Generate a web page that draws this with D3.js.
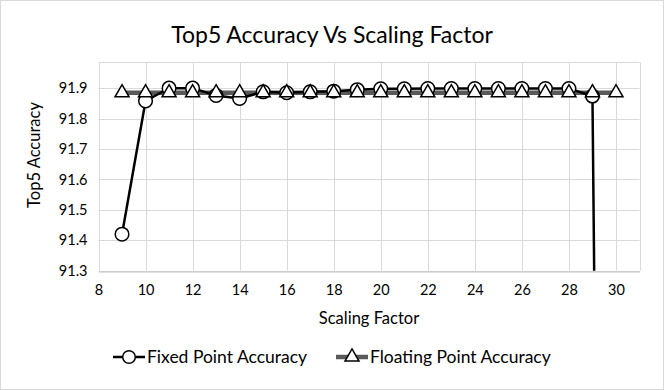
<!DOCTYPE html>
<html lang="en">
    <head>
        <meta charset="utf-8">
        <title>Top5 Accuracy</title>
        <script type="text/javascript" src="https://cdnjs.cloudflare.com/ajax/libs/d3/7.8.5/d3.min.js"></script>
        <style type="text/css">
            body { margin: 0; background: #fff; }
            text { font-family: Lato, "Open Sans", sans-serif; fill: #000; }
        </style>
    </head>
    <body>
        <script type="text/javascript">
            var w = 664;
            var h = 390;

            // data
            var scalingFactors = [9, 10, 11, 12, 13, 14, 15, 16, 17, 18, 19, 20, 21, 22, 23, 24, 25, 26, 27, 28, 29, 30];
            var fixedAcc = [91.42, 91.858, 91.9, 91.9, 91.876, 91.866, 91.888, 91.885, 91.888, 91.89, 91.895, 91.898,
                            91.898, 91.899, 91.899, 91.899, 91.899, 91.899, 91.899, 91.899, 91.874, 84.0];
            var floatAcc = [91.885, 91.885, 91.885, 91.885, 91.885, 91.885, 91.885, 91.885, 91.885, 91.885, 91.885,
                            91.885, 91.885, 91.885, 91.885, 91.885, 91.885, 91.885, 91.885, 91.885, 91.885, 91.885];
            var xTicks = [8, 10, 12, 14, 16, 18, 20, 22, 24, 26, 28, 30];
            var yTicks = [91.3, 91.4, 91.5, 91.6, 91.7, 91.8, 91.9];
            var seriesNames = ["Fixed Point Accuracy", "Floating Point Accuracy"];

            var pLeft = 98.5, pRight = 639.5, pTop = 62.3, pBottom = 270.7;

            var svg = d3.select("body")
                        .append("svg")
                        .attr("width", w)
                        .attr("height", h);

            // chart border
            svg.append("rect")
               .attr("x", 0.5).attr("y", 0.5)
               .attr("width", w - 1).attr("height", h - 1)
               .attr("fill", "#fff")
               .attr("stroke", "#d9d9d9");

            var x = d3.scaleLinear().domain([8, 31]).range([pLeft, pRight]);
            var y = d3.scaleLinear().domain([91.3, 91.985]).range([pBottom, pTop]);

            // gridlines
            var grid = svg.append("g").attr("stroke", "#d9d9d9").attr("stroke-width", 1);
            grid.selectAll("line.h")
                .data(yTicks.concat([91.985]))
                .enter().append("line")
                .attr("x1", pLeft).attr("x2", pRight)
                .attr("y1", function (d) { return Math.round(y(d)) + 0.5; })
                .attr("y2", function (d) { return Math.round(y(d)) + 0.5; });
            grid.selectAll("line.v")
                .data(xTicks.concat([31]))
                .enter().append("line")
                .attr("y1", pTop).attr("y2", pBottom)
                .attr("x1", function (d) { return Math.round(x(d)) + 0.5; })
                .attr("x2", function (d) { return Math.round(x(d)) + 0.5; });

            // axes (labels only, Excel style)
            var xAxis = svg.append("g")
                .attr("transform", "translate(0," + (Math.round(pBottom) + 0.5) + ")")
                .call(d3.axisBottom(x).tickValues(xTicks).tickSize(0).tickPadding(13).tickFormat(d3.format("d")));
            xAxis.select(".domain").attr("stroke", "#bfbfbf");
            xAxis.selectAll("text").style("font-size", "14.5px");

            var yAxis = svg.append("g")
                .attr("transform", "translate(" + pLeft + ",0)")
                .call(d3.axisLeft(y).tickValues(yTicks).tickSize(0).tickPadding(11).tickFormat(d3.format(".1f")));
            yAxis.select(".domain").remove();
            yAxis.selectAll("text").style("font-size", "14.5px");

            // clip to plot area
            svg.append("clipPath").attr("id", "plot")
               .append("rect")
               .attr("x", pLeft).attr("y", pTop - 10)
               .attr("width", pRight - pLeft).attr("height", pBottom - pTop + 10);

            var plot = svg.append("g").attr("clip-path", "url(#plot)");

            var fixedPts = scalingFactors.map(function (d, i) { return [d, fixedAcc[i]]; });
            var floatPts = scalingFactors.map(function (d, i) { return [d, floatAcc[i]]; });

            var line = d3.line()
                .x(function (d) { return x(d[0]); })
                .y(function (d) { return y(d[1]); });

            plot.append("path")
                .attr("d", line(floatPts))
                .attr("fill", "none")
                .attr("stroke", "#595959")
                .attr("stroke-width", 4.5);

            plot.append("path")
                .attr("d", line(fixedPts))
                .attr("fill", "none")
                .attr("stroke", "#000")
                .attr("stroke-width", 2.5);

            var tri = d3.symbol().type(d3.symbolTriangle).size(85);

            plot.selectAll("circle")
                .data(fixedPts.filter(function (d) { return d[1] >= 91.3; }))
                .enter().append("circle")
                .attr("cx", function (d) { return x(d[0]); })
                .attr("cy", function (d) { return y(d[1]); })
                .attr("r", 6.8)
                .attr("fill", "#fff")
                .attr("stroke", "#000")
                .attr("stroke-width", 1.5);

            plot.selectAll("path.tri")
                .data(floatPts)
                .enter().append("path")
                .attr("class", "tri")
                .attr("d", tri)
                .attr("transform", function (d) { return "translate(" + x(d[0]) + "," + y(d[1]) + ")"; })
                .attr("fill", "#fff")
                .attr("stroke", "#000")
                .attr("stroke-width", 1.5);

            // titles
            svg.append("text")
               .attr("x", w / 2).attr("y", 43)
               .attr("text-anchor", "middle")
               .style("font-size", "23px")
               .text("Top5 Accuracy Vs Scaling Factor");

            svg.append("text")
               .attr("x", (pLeft + pRight) / 2).attr("y", 324)
               .attr("text-anchor", "middle")
               .style("font-size", "16.5px")
               .text("Scaling Factor");

            svg.append("text")
               .attr("transform", "translate(40,155) rotate(-90)")
               .attr("text-anchor", "middle")
               .style("font-size", "16.5px")
               .text("Top5 Accuracy");

            // legend
            var legendX = [113, 336];
            var legend = svg.selectAll("g.leg")
                .data(seriesNames)
                .enter().append("g")
                .attr("class", "leg")
                .attr("transform", function (d, i) { return "translate(" + legendX[i] + ",357)"; });

            legend.append("line")
                .attr("x1", 0).attr("x2", 32).attr("y1", 0).attr("y2", 0)
                .attr("stroke", function (d, i) { return i == 0 ? "#000" : "#595959"; })
                .attr("stroke-width", function (d, i) { return i == 0 ? 2.5 : 4.5; });

            legend.each(function (d, i) {
                var g = d3.select(this);
                if (i == 0) {
                    g.append("circle").attr("cx", 16).attr("cy", 0).attr("r", 6.3)
                     .attr("fill", "#fff").attr("stroke", "#000").attr("stroke-width", 1.5);
                } else {
                    g.append("path").attr("d", tri).attr("transform", "translate(16,0)")
                     .attr("fill", "#fff").attr("stroke", "#000").attr("stroke-width", 1.5);
                }
            });

            legend.append("text")
                .attr("x", 34).attr("y", 0)
                .attr("dy", "0.35em")
                .style("font-size", "17.5px")
                .text(function (d) { return d; });
        </script>
    </body>
</html>
